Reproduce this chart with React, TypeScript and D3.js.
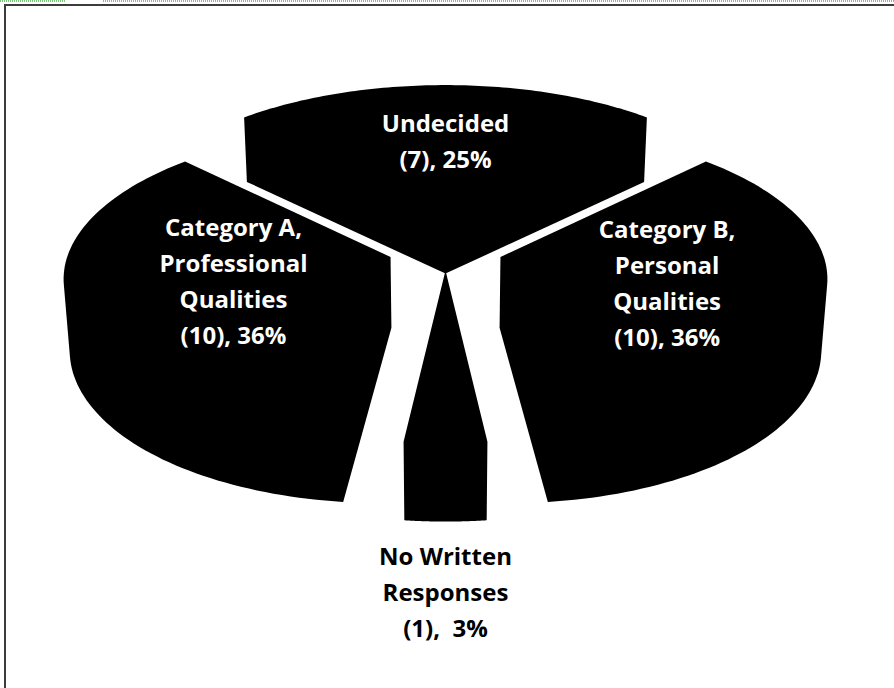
import React from "react";
import * as d3 from "d3";

// ---------- data ----------
const categories = [
  "Undecided",
  "Category B, Personal Qualities",
  "No Written Responses",
  "Category A, Professional Qualities",
];
const counts = [7, 10, 1, 10];
const percents = ["25%", "36%", "3%", "36%"];
const labelLines = [
  ["Undecided", `(${counts[0]}), ${percents[0]}`],
  ["Category B,", "Personal", "Qualities", `(${counts[1]}), ${percents[1]}`],
  ["No Written", "Responses", `(${counts[2]}),  ${percents[2]}`],
  ["Category A,", "Professional", "Qualities", `(${counts[3]}), ${percents[3]}`],
];

// ---------- layout (3D projection) ----------
const W = 894;
const H = 688;
const CX = 445.5;
const CY = 248.3;
const K = 321;
const PHI = (26.85 * Math.PI) / 180;
const DIST = 7.14;
const DEPTH = 0.25;
const EXPLODE = [0.31, 0.18, 0.15, 0.18];
const LABEL_R = [0.5, 0.53, 1.68, 0.5];
const FONT = "'Open Sans', 'Noto Sans', sans-serif";
const LINE_H = 36;

const sinP = Math.sin(PHI);
const cosP = Math.cos(PHI);

function project(x: number, y: number, z: number): [number, number] {
  const pu = y * cosP - z * sinP;
  const pw = y * sinP + z * cosP;
  const g = 1 / (1 - pw / DIST);
  return [CX + K * x * g, CY - K * pu * g];
}

export default function App() {
  const pie = d3
    .pie<number>()
    .sort(null)
    .startAngle(-Math.PI / 4)
    .endAngle((7 * Math.PI) / 4);
  const arcs = pie(counts);

  const slices = arcs.map((a, i) => {
    const mid = (a.startAngle + a.endAngle) / 2;
    const e = EXPLODE[i];
    const ox = e * Math.sin(mid);
    const oz = -e * Math.cos(mid);
    const pts: [number, number][] = [];
    const n = 90;
    for (const y of [0, -DEPTH]) {
      pts.push(project(ox, y, oz));
      for (let k = 0; k <= n; k++) {
        const t = a.startAngle + ((a.endAngle - a.startAngle) * k) / n;
        pts.push(project(ox + Math.sin(t), y, oz - Math.cos(t)));
      }
    }
    const hull = d3.polygonHull(pts) || pts;
    const path = "M" + hull.map((p) => `${p[0].toFixed(2)},${p[1].toFixed(2)}`).join("L") + "Z";
    const r = e + LABEL_R[i];
    const [lx, ly] = project(r * Math.sin(mid), 0, -r * Math.cos(mid));
    return { path, lx, ly, lines: labelLines[i], key: categories[i], inside: LABEL_R[i] < 1 };
  });

  return (
    <svg
      width={W}
      height={H}
      viewBox={`0 0 ${W} ${H}`}
      style={{ position: "absolute", left: 0, top: 0, background: "#fff" }}
    >
      <rect x={0} y={0} width={W} height={H} fill="#fff" />
      <line x1={0} y1={1} x2={66} y2={1} stroke="#7cc47c" strokeWidth={2} strokeDasharray="1,1" />
      <line x1={103} y1={1} x2={W} y2={1} stroke="#7cc47c" strokeWidth={2} strokeDasharray="1,1" />
      <path d={`M5,${H} V5 H${W}`} fill="none" stroke="#3c3c3c" strokeWidth={2} />
      {slices.map((s) => (
        <path key={s.key} d={s.path} fill="#000" />
      ))}
      {slices.map((s) => (
        <text
          key={s.key + "-label"}
          fontFamily={FONT}
          fontWeight={700}
          fontSize={24}
          fill={s.inside ? "#fff" : "#000"}
          textAnchor="middle"
          style={{ whiteSpace: "pre" }}
        >
          {s.lines.map((ln, j) => (
            <tspan key={j} x={s.lx} y={s.ly + (j - (s.lines.length - 1) / 2) * LINE_H + 8.5}>
              {ln}
            </tspan>
          ))}
        </text>
      ))}
    </svg>
  );
}
